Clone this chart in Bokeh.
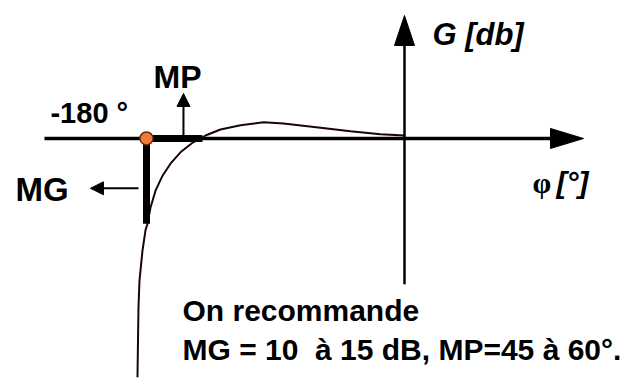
from bokeh.plotting import figure
from bokeh.models import Range1d, Arrow, NormalHead
from bokeh.core.properties import value
from bokeh.embed import file_html
from bokeh.resources import INLINE

# Open-loop locus in the Black-Nichols plane (phase in degrees, gain in dB)
phase_deg = [-186.3, -185.6, -184.9, -182.8, -180.7, -179.3, -177.2, -173.7, -168.8,
             -163.3, -156.3, -147.9, -142.3, -138.8, -128.4, -114.4, -98.4, -84.4,
             -58.6, -37.7, -16.7, 0.0]
gain_db = [-39.8, -28.2, -23.7, -18.7, -15.3, -14.2, -11.5, -8.7, -6.2,
           -4.2, -2.3, -0.7, 0.0, 0.5, 1.5, 2.2, 2.7, 2.5,
           1.8, 1.2, 0.7, 0.5]

critical_phase = -180.0        # -180 deg point
gain_margin_db = 14.2          # MG
crossover_phase = -141.0       # phase where the locus crosses 0 dB
phase_axis = [-251.2, 124.9]   # extent of the phase axis
gain_axis = [-24.3, 20.5]      # extent of the gain axis

PX_DEG = 1.4333   # pixels per degree
PX_DB = 6.0       # pixels per dB

W, H = 624, 379
p = figure(width=W, height=H, output_backend="svg", toolbar_location=None,
           x_range=Range1d(-281.86, 153.49), y_range=Range1d(-40.17, 23.0),
           min_border=0, min_border_left=0, min_border_right=0,
           min_border_top=0, min_border_bottom=0)
p.axis.visible = False
p.grid.visible = False
p.outline_line_color = None
p.background_fill_color = "white"
p.border_fill_color = "white"

ink = "#000000"

# axes
p.segment(x0=[phase_axis[0]], y0=[0], x1=[phase_axis[1] - 20 / PX_DEG], y1=[0],
          line_color=ink, line_width=3.5)
p.segment(x0=[0], y0=[gain_axis[0]], x1=[0], y1=[gain_axis[1] - 20 / PX_DB],
          line_color=ink, line_width=2.5)
# arrow heads of the axes
L, hw = 33, 10
tip = phase_axis[1]
p.patch(x=[tip, tip - L / PX_DEG, tip - L / PX_DEG],
        y=[0, hw / PX_DB, -hw / PX_DB], fill_color=ink, line_color=ink)
L, hw = 30, 10
tip = gain_axis[1]
p.patch(x=[0, hw / PX_DEG, -hw / PX_DEG],
        y=[tip, tip - L / PX_DB, tip - L / PX_DB], fill_color=ink, line_color=ink)

# locus
p.line(phase_deg, gain_db, line_color="#1a0505", line_width=2)

# margins (thick)
p.segment(x0=[critical_phase], y0=[0], x1=[critical_phase], y1=[-gain_margin_db],
          line_color=ink, line_width=7)
p.segment(x0=[critical_phase], y0=[0], x1=[crossover_phase], y1=[0],
          line_color=ink, line_width=7)

# critical point
p.scatter([critical_phase], [0], size=13, marker="circle",
          fill_color="#f47a3c", line_color="#6a2a10", line_width=1.5)

# small arrows
p.add_layout(Arrow(end=NormalHead(size=13, fill_color=ink, line_color=ink),
                   x_start=-154.2, y_start=0, x_end=-154.2, y_end=7.5,
                   line_color=ink, line_width=2))
p.add_layout(Arrow(end=NormalHead(size=13, fill_color=ink, line_color=ink),
                   x_start=-185.6, y_start=-8.3, x_end=-219.1, y_end=-8.3,
                   line_color=ink, line_width=2))

sans = value("Liberation Sans")
def label(x, y, txt, size, style="bold", font=sans):
    p.text(x=[x], y=[y], text=[txt], text_font=font, text_font_size=f"{size}px",
           text_font_style=style, text_color=ink, text_baseline="alphabetic",
           text_align="left")

label(-247.0, 4.3, "-180 °", 29)
label(-175.1, 10.3, "MP", 32)
label(-271.4, -8.5, "MG", 33)
label(19.5, 17.3, "G [db]", 31, "bold italic")
label(89.3, -7.3, "φ", 30, "bold", value("Liberation Serif"))
label(106.0, -7.3, "[°]", 30, "bold italic")
label(-154.9, -28.7, "On recommande", 30)
label(-154.9, -35.2, "MG = 10\u00a0 à 15 dB, MP=45 à 60°.", 30)

open("out.html", "w").write(file_html(p, INLINE))
